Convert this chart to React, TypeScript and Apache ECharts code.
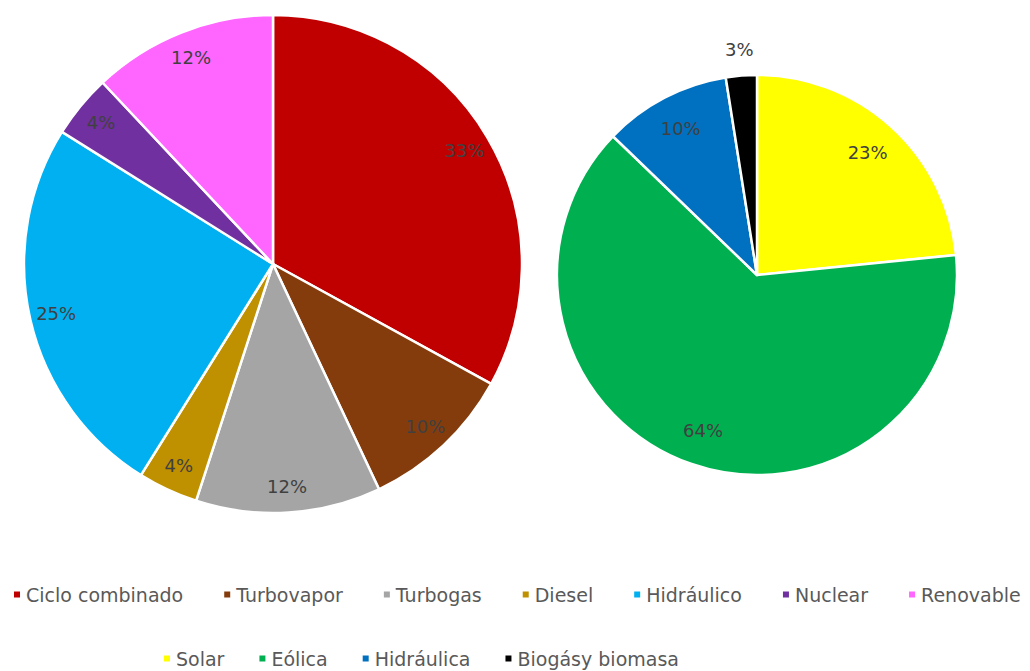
import React, { useEffect, useRef } from "react";
import * as echarts from "echarts";

const leftNames = ["Ciclo combinado", "Turbovapor", "Turbogas", "Diesel", "Hidráulico", "Nuclear", "Renovable"];
const leftValues = [33, 10, 12, 3.9, 25, 4.1, 12];
const leftColors = ["#C00000", "#843C0C", "#A5A5A5", "#BF9000", "#00B0F0", "#7030A0", "#FF66FF"];

const rightNames = ["Solar", "Eólica", "Hidráulica", "Biogásy biomasa"];
const rightValues = [23.4, 63.8, 10.3, 2.5];
const rightColors = ["#FFFF00", "#00B050", "#0070C0", "#000000"];
const rightOutsideLabel = [false, false, false, true];

const FONT = "DejaVu Sans";

export default function App() {
  const ref = useRef<HTMLDivElement>(null);
  useEffect(() => {
    if (!ref.current) return;
    const chart = echarts.init(ref.current, null, { renderer: "svg" });
    const labelStyle = {
      show: true,
      position: "inside",
      formatter: "{d}%",
      color: "#404040",
      fontSize: 18,
      fontFamily: FONT,
    };
    const leftData = leftNames.map((n, i) => ({ name: n, value: leftValues[i], itemStyle: { color: leftColors[i] } }));
    const rightData = rightNames.map((n, i) => ({ name: n, value: rightValues[i], itemStyle: { color: rightColors[i] } }));
    const base = {
      type: "pie",
      startAngle: 90,
      clockwise: true,
      avoidLabelOverlap: false,
      percentPrecision: 0,
      silent: true,
      emphasis: { disabled: true },
      labelLine: { show: false },
    };
    const legendText = { color: "#595959", fontSize: 19, fontFamily: FONT };
    chart.setOption({
      animation: false,
      backgroundColor: "#ffffff",
      legend: [
        {
          left: 12,
          top: 585,
          width: 1017,
          padding: 0,
          icon: "rect",
          itemWidth: 8,
          itemHeight: 8,
          itemGap: 39,
          selectedMode: false,
          textStyle: legendText,
          data: leftNames.map((n, i) => ({ name: n, itemStyle: { color: leftColors[i] } })),
        },
        {
          left: 157,
          top: 644,
          icon: "rect",
          itemWidth: 8,
          itemHeight: 8,
          itemGap: 33,
          selectedMode: false,
          textStyle: legendText,
          data: rightNames.map((n, i) => ({ name: n, itemStyle: { color: rightColors[i] } })),
        },
      ],
      series: [
        {
          ...base,
          center: [273, 264],
          radius: [0, 249],
          itemStyle: { borderColor: "#ffffff", borderWidth: 2.5 },
          label: { show: false },
          data: leftData,
        },
        {
          ...base,
          center: [273, 264],
          radius: [190, 249],
          itemStyle: { color: "transparent", borderWidth: 0 },
          label: labelStyle,
          data: leftNames.map((n, i) => ({ name: n, value: leftValues[i], itemStyle: { color: "transparent" } })),
        },
        {
          ...base,
          center: [757, 275],
          radius: [0, 200],
          itemStyle: { borderColor: "#ffffff", borderWidth: 2.5 },
          label: { show: false },
          data: rightData,
        },
        {
          ...base,
          center: [757, 275],
          radius: [124, 200],
          itemStyle: { color: "transparent", borderWidth: 0 },
          label: labelStyle,
          data: rightNames.map((n, i) => ({
            name: n,
            value: rightValues[i],
            itemStyle: { color: "transparent" },
            label: { show: !rightOutsideLabel[i] },
          })),
        },
        {
          ...base,
          center: [757, 275],
          radius: [200, 246],
          itemStyle: { color: "transparent", borderWidth: 0 },
          label: labelStyle,
          data: rightNames.map((n, i) => ({
            name: n,
            value: rightValues[i],
            itemStyle: { color: "transparent" },
            label: { show: rightOutsideLabel[i] },
          })),
        },
      ],
    });
    return () => chart.dispose();
  }, []);
  return (
    <div
      ref={ref}
      style={{ position: "fixed", left: 0, top: 0, width: 1030, height: 671 }}
    />
  );
}
